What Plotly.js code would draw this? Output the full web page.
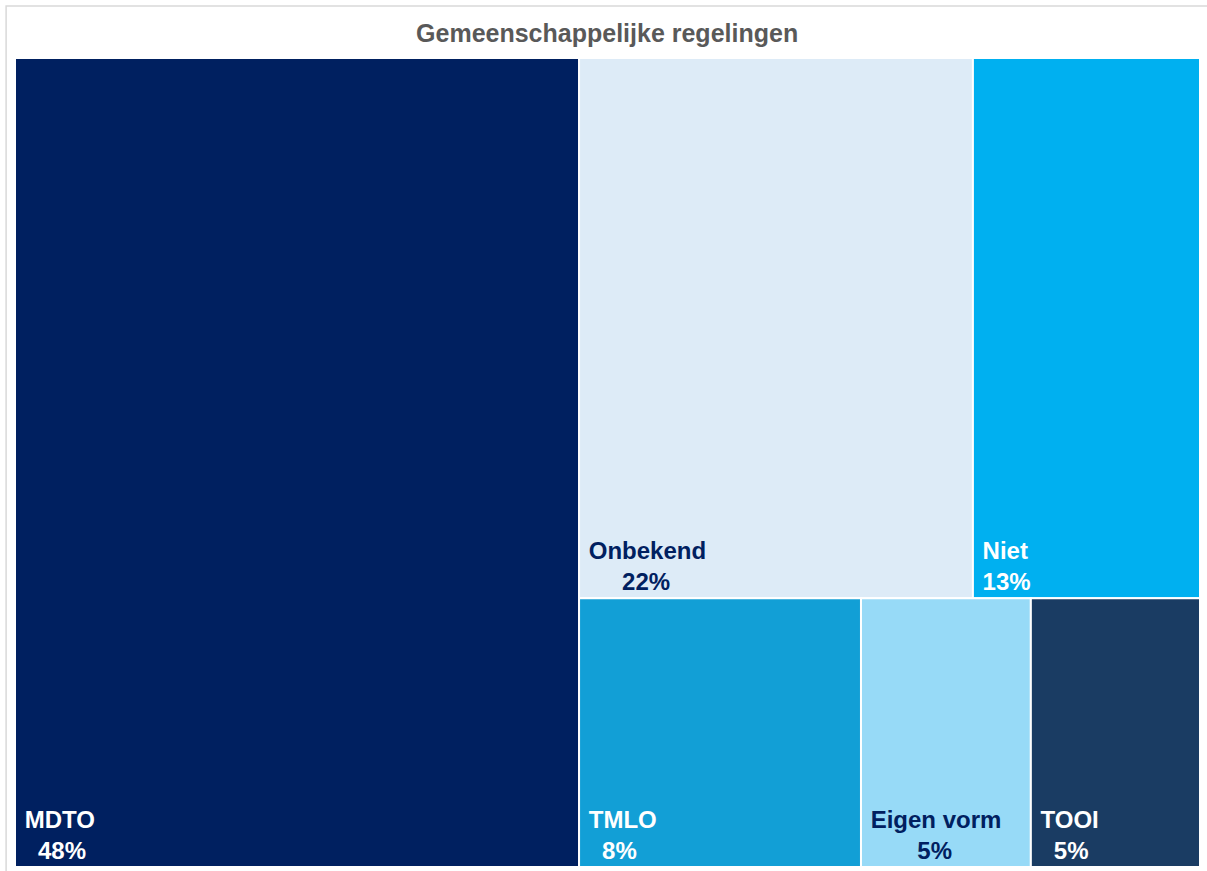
<!DOCTYPE html>
<html><head><meta charset="utf-8">
<script src="https://cdn.plot.ly/plotly-3.0.1.min.js"></script>
<style>html,body{margin:0;padding:0;background:#fff}#chart{width:1207px;height:871px}</style>
</head><body><div id="chart"></div>
<script>
// Categories and their shares (%)
const categories = ["MDTO", "Onbekend", "Niet", "TMLO", "Eigen vorm", "TOOI"];
const shares = [47.6, 22.2, 12.8, 7.9, 4.76, 4.74];
// Which block of the layout each category sits in (MDTO stands alone)
const blocks = ["", "rest/top", "rest/top", "rest/bottom", "rest/bottom", "rest/bottom"];
const groupIds = ["rest", "rest/top", "rest/bottom"];
const groupParents = ["", "rest", "rest"];
const colors = ["#002060", "#DDEBF7", "#00B0F0", "#129FD6", "#97DAF7", "#1A3C63"];
const textColors = ["#ffffff", "#002060", "#ffffff", "#ffffff", "#002060", "#ffffff"];
const title = "Gemeenschappelijke regelingen";

const FONT = "Liberation Sans, Arial, sans-serif";
const FS = 24;
const total = shares.reduce((a, b) => a + b, 0);
const pctLabels = shares.map(v => Math.round(v / total * 100) + "%");

// centre the two label lines on each other (Excel style) using non-breaking spaces
const cv = document.createElement("canvas").getContext("2d");
cv.font = "bold " + FS + "px 'Liberation Sans'";
const NB = "\u00A0";
const nbW = cv.measureText(NB).width;
function centred(a, b) {
  const wa = cv.measureText(a).width, wb = cv.measureText(b).width;
  const n = Math.max(0, Math.round(Math.abs(wa - wb) / 2 / nbW));
  const pad = NB.repeat(n);
  if (wa >= wb) b = pad + b; else a = pad + a;
  return "<b>" + NB + a + "</b><br><b>" + NB + b + "</b>";
}

const ids = categories.concat(groupIds);
const labels = categories.concat(groupIds.map(() => ""));
const parents = blocks.concat(groupParents);
const values = shares.concat(groupIds.map(() => 0));
const texttemplates = categories.map((c, i) => centred(c, pctLabels[i])).concat(groupIds.map(() => ""));
const markerColors = colors.concat(groupIds.map(() => "rgba(0,0,0,0)"));
const fontColors = textColors.concat(groupIds.map(() => "#ffffff"));
const lineWidths = categories.map(() => 2).concat(groupIds.map(() => 0));

// reorder so that MDTO comes first, then the rest block
const order = [0, 6, 7, 1, 2, 8, 3, 4, 5];
const pick = arr => order.map(i => arr[i]);

const trace = {
  type: "treemap",
  ids: pick(ids),
  labels: pick(labels),
  parents: pick(parents),
  values: pick(values),
  branchvalues: "remainder",
  texttemplate: pick(texttemplates),
  textposition: "bottom left",
  textfont: {family: FONT, size: FS, color: pick(fontColors)},
  marker: {colors: pick(markerColors), line: {color: "#ffffff", width: pick(lineWidths)}, pad: {t: 0, l: 0, r: 0, b: 0}},
  tiling: {packing: "slice-dice", pad: 0},
  sort: false,
  hoverinfo: "skip",
  pathbar: {visible: false}
};
const layout = {
  width: 1207, height: 871,
  margin: {l: 15, r: 7, t: 58, b: 4},
  paper_bgcolor: "#ffffff",
  showlegend: false,
  title: {text: "<b>" + title + "</b>", font: {family: FONT, size: 25, color: "#595959"}, x: 0.503, xanchor: "center", y: 0.962, yanchor: "middle"},
  shapes: [{type: "rect", xref: "paper", yref: "paper", x0: -0.0075, x1: 1.02, y0: -0.01, y1: 1.0643, line: {color: "#d9d9d9", width: 1.5}}]
};
Plotly.newPlot("chart", [trace], layout, {displayModeBar: false});
</script></body></html>
